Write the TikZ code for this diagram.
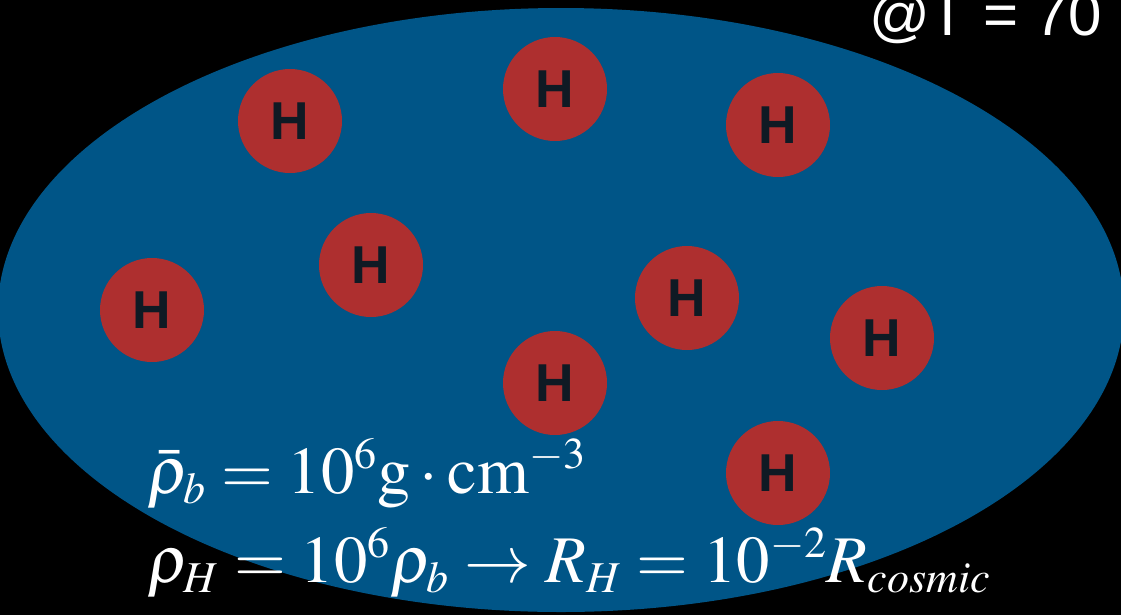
\documentclass[tikz,border=0pt]{standalone}
\usepackage{mathptmx}
\usepackage{fontspec}
\setsansfont{Liberation Sans}
\DeclareMathSizes{50}{50}{33}{25}
\definecolor{cellblue}{RGB}{0,85,135}
\definecolor{atomred}{RGB}{174,47,47}
\definecolor{atomtext}{RGB}{15,26,36}

\begin{document}
\begin{tikzpicture}[x=0.75pt,y=-0.75pt]
\tikzset{
  atom/.style={circle,fill=atomred,minimum size=78pt,inner sep=0pt,text=atomtext,font=\sffamily\bfseries\fontsize{40}{40}\selectfont},
  formula/.style={text=white,inner sep=0pt,anchor=base west,font=\fontsize{50}{50}\selectfont},
  label/.style={text=white,inner sep=0pt,anchor=base east,font=\sffamily\fontsize{45}{45}\selectfont}
}
\fill[black] (0,0) rectangle (1121,615);
\useasboundingbox (0,0) rectangle (1121,615);
\fill[cellblue] (561,310) ellipse [x radius=563, y radius=302];
\node[atom] (h_a) at (290,121) {H};
\node[atom] (h_b) at (555,89) {H};
\node[atom] (h_c) at (778,125) {H};
\node[atom] (h_d) at (371,265) {H};
\node[atom] (h_e) at (152,310) {H};
\node[atom] (h_f) at (687,298) {H};
\node[atom] (h_g) at (882,338) {H};
\node[atom] (h_h) at (555,383) {H};
\node[atom] (h_i) at (778,473) {H};
\node[label] (temp) at (1102,35) {@T = 70};
\node[formula] (rho_b) at (147,493) {$\bar{\rho}_b = 10^6\mathrm{g}\cdot\mathrm{cm}^{-3}$};
\node[formula] (rho_h) at (147,582) {$\rho_H = 10^6\rho_b \rightarrow R_H = 10^{-2}R_{\mathit{cosmic}}$};
\end{tikzpicture}
\end{document}
